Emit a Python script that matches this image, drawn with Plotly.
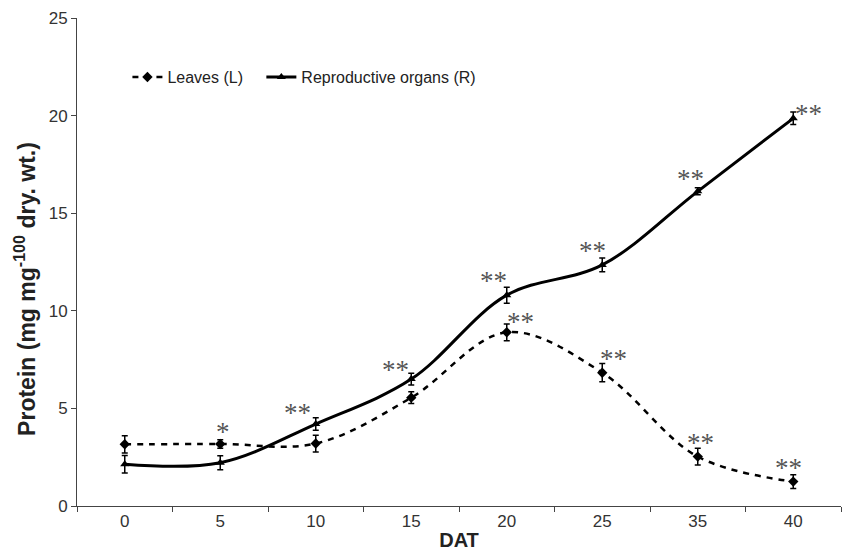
import plotly.graph_objects as go

days = ["0", "5", "10", "15", "20", "25", "35", "40"]
leaves = [3.16, 3.18, 3.2, 5.55, 8.9, 6.83, 2.53, 1.25]
leaves_err = [0.44, 0.22, 0.43, 0.3, 0.43, 0.47, 0.43, 0.35]
repro = [2.14, 2.22, 4.2, 6.5, 10.8, 12.35, 16.12, 19.86]
repro_err = [0.45, 0.36, 0.32, 0.3, 0.41, 0.35, 0.18, 0.32]

leaves_sig = ["", "*", "", "", "**", "**", "**", "**"]
repro_sig = ["", "", "**", "**", "**", "**", "**", "**"]
leaves_sig_shift = [(0, 0), (3, 12), (0, 0), (0, 0), (14, 10), (11, 14), (3, 14), (-5, 14)]
repro_sig_shift = [(0, 0), (0, 0), (-18, 11), (-16, 9), (-13, 14), (-10, 14), (-7, 12), (15, 4)]

fig = go.Figure()
fig.add_trace(go.Scatter(
    x=days, y=leaves, name="Leaves (L)\u00a0\u00a0\u00a0", mode="lines+markers",
    line=dict(color="black", width=2.5, dash="6px,6px", shape="spline", smoothing=1),
    marker=dict(symbol="diamond", size=8, color="black"),
    error_y=dict(type="data", array=leaves_err, color="black", thickness=1.5, width=3),
))
fig.add_trace(go.Scatter(
    x=days, y=repro, name="Reproductive organs (R)", mode="lines+markers",
    line=dict(color="black", width=3, shape="spline", smoothing=1),
    marker=dict(symbol="triangle-up", size=8, color="black"),
    error_y=dict(type="data", array=repro_err, color="black", thickness=1.5, width=3),
))

ann = []
sig_font = dict(family="Liberation Serif", size=27, color="#555")
for i, (v, s, sh) in enumerate(zip(leaves, leaves_sig, leaves_sig_shift)):
    if s:
        ann.append(dict(x=i, y=v, xref="x", yref="y", text=s, showarrow=False,
                        xshift=sh[0], yshift=sh[1], font=sig_font))
for i, (v, s, sh) in enumerate(zip(repro, repro_sig, repro_sig_shift)):
    if s:
        ann.append(dict(x=i, y=v, xref="x", yref="y", text=s, showarrow=False,
                        xshift=sh[0], yshift=sh[1], font=sig_font))

ann.append(dict(x=-0.068, y=0.445, xref="paper", yref="paper", textangle=-90,
                text="<b>Protein (mg mg<sup>-100</sup> dry. wt.)</b>", showarrow=False,
                xanchor="center", yanchor="middle",
                font=dict(size=23, color="#222")))

fig.update_layout(
    width=844, height=557,
    margin=dict(l=77, r=3, t=18, b=51),
    paper_bgcolor="white", plot_bgcolor="white",
    font=dict(family="Liberation Sans, Arial", color="#222"),
    showlegend=True,
    legend=dict(orientation="h", x=0.066, y=0.879, xanchor="left", yanchor="middle",
                font=dict(size=16, color="#222"), bgcolor="rgba(0,0,0,0)",
                itemwidth=30, tracegroupgap=0),
    annotations=ann,
    xaxis=dict(type="category", range=[-0.5, 7.5], tickson="boundaries",
               ticks="outside", ticklen=5, tickcolor="#444",
               showline=True, linecolor="#444", linewidth=1, showgrid=False,
               tickfont=dict(size=17, color="#333"),
               title=dict(text="<b>DAT</b>", font=dict(size=20, color="#222"), standoff=2)),
    yaxis=dict(range=[0, 25], dtick=5, ticks="outside", ticklen=5, tickcolor="#444",
               showline=True, linecolor="#444", linewidth=1, showgrid=False, zeroline=False,
               tickfont=dict(size=17, color="#333")),
)
fig.write_html("out.html")
